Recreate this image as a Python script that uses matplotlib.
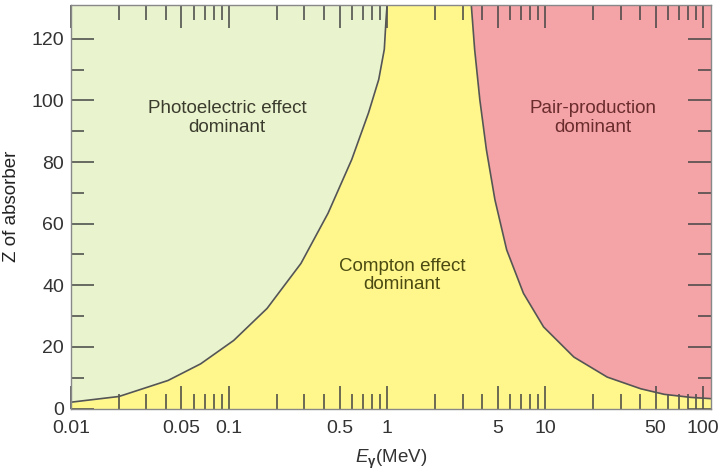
import numpy
import matplotlib
matplotlib.use("Agg")
import matplotlib.pyplot as plt
from matplotlib.ticker import FixedLocator, NullFormatter

plt.rcParams['font.family'] = ['Liberation Sans', 'DejaVu Sans']
plt.rcParams['mathtext.fontset'] = 'custom'
plt.rcParams['mathtext.rm'] = 'Liberation Sans'
plt.rcParams['mathtext.it'] = 'Liberation Sans:italic'
plt.rcParams['mathtext.bf'] = 'Liberation Sans:bold'

# boundary photoelectric / Compton (E in MeV, Z)
photo_E = [0.01, 0.0201, 0.0411, 0.0661, 0.107, 0.174, 0.285, 0.423, 0.597, 0.763,
           0.885, 0.96, 0.985, 1.0]
photo_Z = [2.05, 3.9, 9.1, 14.5, 22.1, 32.5, 47.1, 63.4, 80.8, 96.0,
           106.8, 116.6, 126.4, 131.0]

# boundary Compton / pair production
pair_E = [3.41, 3.58, 3.86, 4.25, 4.81, 5.71, 7.29, 9.77, 15.2, 24.7,
          40.3, 56.7, 83.8, 112.0]
pair_Z = [131.0, 116.6, 100.3, 84.0, 67.8, 51.5, 37.4, 26.5, 16.7, 10.2,
          6.4, 4.6, 3.6, 3.2]

major_E = [0.01, 0.05, 0.1, 0.5, 1, 5, 10, 50, 100]
major_labels = ['0.01', '0.05', '0.1', '0.5', '1', '5', '10', '50', '100']
minor_E = [m * d for d in [0.01, 0.1, 1, 10] for m in [2, 3, 4, 6, 7, 8, 9]]

Z_major = [0, 20, 40, 60, 80, 100, 120]
Z_minor = [10, 30, 50, 70, 90, 110]

x_min, x_max = 0.01, 112
y_min, y_max = 0, 131

green = '#E9F4CE'
yellow = '#FFF78C'
pink = '#F4A3A7'
line_col = '#555555'

fig = plt.figure(figsize=(7.19, 4.75), dpi=100)
ax = fig.add_axes([0.0988, 0.14, 0.89, 0.8495])
ax.set_xscale('log')
ax.set_xlim(x_min, x_max)
ax.set_ylim(y_min, y_max)
ax.set_facecolor(yellow)

# regions
ax.fill_betweenx(photo_Z, x_min, photo_E, color=green, lw=0)
ax.fill_betweenx(pair_Z, pair_E, x_max, color=pink, lw=0)
ax.plot(photo_E, photo_Z, color=line_col, lw=1.2, solid_joinstyle='round')
ax.plot(pair_E, pair_Z, color=line_col, lw=1.2, solid_joinstyle='round')

# labels in regions
ax.text(0.097, 94.3, 'Photoelectric effect\ndominant', ha='center', va='center',
        fontsize=13.5, color='#3b3b2e', linespacing=1.1)
ax.text(1.24, 43.2, 'Compton effect\ndominant', ha='center', va='center',
        fontsize=13.5, color='#4b4a12', linespacing=1.1)
ax.text(20.1, 94.3, 'Pair-production\ndominant', ha='center', va='center',
        fontsize=13.5, color='#6a2c2c', linespacing=1.1)

# ticks
ax.xaxis.set_major_locator(FixedLocator(major_E))
ax.set_xticklabels(major_labels)
ax.xaxis.set_minor_locator(FixedLocator(minor_E))
ax.xaxis.set_minor_formatter(NullFormatter())
ax.yaxis.set_major_locator(FixedLocator(Z_major))
ax.yaxis.set_minor_locator(FixedLocator(Z_minor))

ax.tick_params(axis='both', which='both', direction='in', top=True, right=True,
               color='#444444', width=1.1, labelcolor='#333333', labelsize=14)
ax.tick_params(axis='both', which='major', length=16.5)
ax.tick_params(axis='x', which='major', pad=8)
ax.tick_params(axis='y', which='major', pad=5)
ax.tick_params(axis='x', which='minor', length=11)
ax.tick_params(axis='y', which='minor', length=9.5)

for sp in ax.spines.values():
    sp.set_color('#888888')
    sp.set_linewidth(1.0)

ax.set_ylabel('Z of absorber', fontsize=13.5, color='#222222', labelpad=8)
ax.set_xlabel(r'$\mathit{E}_{\mathbf{\gamma}}$(MeV)', fontsize=13.5, color='#333333', labelpad=8)

fig.savefig('out.png', dpi=100)
